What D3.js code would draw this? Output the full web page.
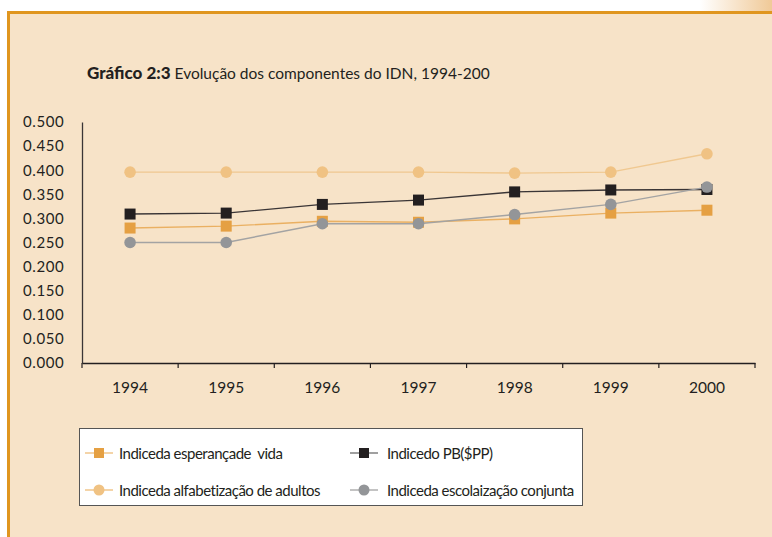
<!DOCTYPE html>
<meta charset="utf-8">
<style>
body { margin: 0; background: #fff; }
text { font-family: Lato, 'Open Sans', sans-serif; fill: #231f20; }
</style>
<body>
<svg width="772" height="537"></svg>
<script src="https://cdn.jsdelivr.net/npm/d3@7"></script>
<script>

var years = ["1994", "1995", "1996", "1997", "1998", "1999", "2000"];
var yTicks = [0, 0.05, 0.1, 0.15, 0.2, 0.25, 0.3, 0.35, 0.4, 0.45, 0.5];

var esperanca = [0.280, 0.284, 0.294, 0.292, 0.299, 0.311, 0.317];
var pib = [0.309, 0.311, 0.329, 0.338, 0.355, 0.359, 0.360];
var alfabetizacao = [0.396, 0.396, 0.396, 0.396, 0.394, 0.396, 0.434];
var escolarizacao = [0.250, 0.250, 0.289, 0.289, 0.308, 0.329, 0.365];

var seriesNames = ["Indiceda esperançade  vida", "Indicedo PB($PP)",
                   "Indiceda alfabetização de adultos", "Indiceda escolaização conjunta"];

var series = [
  {name: seriesNames[0], values: esperanca, shape: "square", fill: "#e5a043", line: "#eab062", legendLine: "#efc283"},
  {name: seriesNames[1], values: pib, shape: "square", fill: "#231f20", line: "#3a3536", legendLine: "#777"},
  {name: seriesNames[2], values: alfabetizacao, shape: "circle", fill: "#f0c283", line: "#f0c890", legendLine: "#efc283"},
  {name: seriesNames[3], values: escolarizacao, shape: "circle", fill: "#939598", line: "#a3a3a3", legendLine: "#aaa"}
];

var svg = d3.select("svg");

// background panel + gradient corner
var defs = svg.append("defs");
var grad = defs.append("linearGradient").attr("id", "corner");
grad.append("stop").attr("offset", "0%").attr("stop-color", "#fff");
grad.append("stop").attr("offset", "100%").attr("stop-color", "#f0c997");
svg.append("rect").attr("x", 700).attr("y", 0).attr("width", 72).attr("height", 12).attr("fill", "url(#corner)");

svg.append("rect").attr("x", 7).attr("y", 11).attr("width", 765).attr("height", 526).attr("fill", "#f7e3c8");
svg.append("rect").attr("x", 7).attr("y", 11).attr("width", 765).attr("height", 3).attr("fill", "#e0961f");
svg.append("rect").attr("x", 7).attr("y", 11).attr("width", 3).attr("height", 526).attr("fill", "#e0961f");

// title
var title = svg.append("text").attr("x", 87).attr("y", 79).style("font-size", "15.5px");
title.append("tspan").style("font-weight", "900").style("font-size", "17px").text("Gráfico 2:3");
title.append("tspan").text(" Evolução dos componentes do IDN, 1994-200");

var margin = {left: 82, top: 122, right: 755, bottom: 363};

var x = d3.scaleBand().domain(years).range([margin.left, margin.right]);
var y = d3.scaleLinear().domain([0, 0.5]).range([margin.bottom, margin.top]);

// y axis
var yAxis = svg.append("g")
    .attr("transform", "translate(" + margin.left + ",0)")
    .call(d3.axisLeft(y).tickValues(yTicks).tickSize(0).tickFormat(d3.format(".3f")));
yAxis.select(".domain").attr("stroke", "#3a3536").attr("stroke-width", 1.3);
yAxis.selectAll("text")
    .attr("x", 23 - margin.left)
    .attr("text-anchor", "start")
    .style("font-size", "15px")
    .style("letter-spacing", "0.6px")
    .style("font-family", "Lato, sans-serif")
    .attr("fill", "#231f20");

// x axis
var xAxis = svg.append("g")
    .attr("transform", "translate(0," + margin.bottom + ")")
    .call(d3.axisBottom(x).tickSize(0).tickSizeOuter(0));
xAxis.select(".domain").attr("stroke", "#231f20").attr("stroke-width", 1.3);
xAxis.selectAll("text")
    .attr("dy", 0)
    .attr("y", 30)
    .style("font-size", "15.5px")
    .style("font-family", "Lato, sans-serif")
    .attr("fill", "#231f20");

var bounds = d3.range(years.length + 1).map(function(i) { return margin.left + i * x.step(); });
xAxis.selectAll(".bound")
    .data(bounds)
    .enter().append("line")
    .attr("class", "bound")
    .attr("x1", function(d) { return d; })
    .attr("x2", function(d) { return d; })
    .attr("y1", 0)
    .attr("y2", 5)
    .attr("stroke", "#231f20")
    .attr("stroke-width", 1.2);

var cx = function(i) { return x(years[i]) + x.bandwidth() / 2; };

var line = d3.line()
    .x(function(d, i) { return cx(i); })
    .y(function(d) { return y(d); });

// draw in order: alfabetizacao, esperanca, pib, escolarizacao
var order = [2, 0, 1, 3];
order.forEach(function(k) {
  var s = series[k];
  var g = svg.append("g");
  g.append("path")
    .attr("d", line(s.values))
    .attr("fill", "none")
    .attr("stroke", s.line)
    .attr("stroke-width", 1.4);
  if (s.shape === "square") {
    g.selectAll("rect").data(s.values).enter().append("rect")
      .attr("x", function(d, i) { return cx(i) - 5.5; })
      .attr("y", function(d) { return y(d) - 5.5; })
      .attr("width", 11).attr("height", 11)
      .attr("fill", s.fill);
  } else {
    g.selectAll("circle").data(s.values).enter().append("circle")
      .attr("cx", function(d, i) { return cx(i); })
      .attr("cy", function(d) { return y(d); })
      .attr("r", 5.8)
      .attr("fill", s.fill);
  }
});

// legend
var legend = svg.append("g");
legend.append("rect")
  .attr("x", 79.5).attr("y", 428.5).attr("width", 503).attr("height", 77)
  .attr("fill", "#fff").attr("stroke", "#555").attr("stroke-width", 1);

var legendPos = [[99, 453, 20], [364, 453, 23], [99, 490, 20], [364, 490, 23]];
series.forEach(function(s, k) {
  var p = legendPos[k];
  var item = legend.append("g").attr("transform", "translate(" + p[0] + "," + p[1] + ")");
  item.append("line").attr("x1", -14).attr("x2", 14).attr("y1", 0).attr("y2", 0)
    .attr("stroke", s.legendLine).attr("stroke-width", 1.4);
  if (s.shape === "square") {
    item.append("rect").attr("x", -5).attr("y", -5).attr("width", 10).attr("height", 10).attr("fill", s.fill);
  } else {
    item.append("circle").attr("r", 5.5).attr("fill", s.fill);
  }
  item.append("text").attr("x", p[2]).attr("y", 5.5)
    .style("font-size", "15px")
    .style("letter-spacing", "-0.5px")
    .style("white-space", "pre")
    .text(s.name);
});

</script>
</body>
</html>
